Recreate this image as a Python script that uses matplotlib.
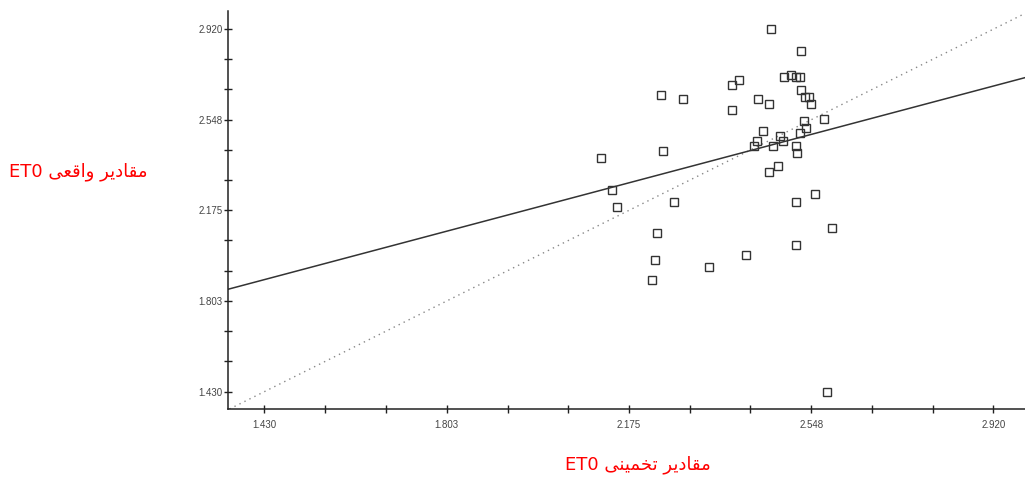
import matplotlib
matplotlib.use('Agg')
import matplotlib.pyplot as plt
import numpy as np
from matplotlib.ticker import FixedLocator, FormatStrFormatter

et0_estimated = [2.466, 2.527, 2.492, 2.506, 2.517, 2.525, 2.400, 2.386, 2.241, 2.286,
                 2.527, 2.535, 2.543, 2.547, 2.439, 2.461, 2.386, 2.574, 2.533, 2.537,
                 2.525, 2.449, 2.437, 2.431, 2.484, 2.490, 2.470, 2.517, 2.519, 2.245,
                 2.118, 2.480, 2.461, 2.141, 2.555, 2.151, 2.267, 2.517, 2.233, 2.590,
                 2.517, 2.228, 2.414, 2.339, 2.222, 2.580]
et0_observed = [2.921, 2.831, 2.724, 2.732, 2.724, 2.724, 2.712, 2.691, 2.650, 2.634,
                2.671, 2.642, 2.642, 2.613, 2.634, 2.613, 2.588, 2.551, 2.543, 2.514,
                2.494, 2.502, 2.461, 2.440, 2.481, 2.461, 2.440, 2.440, 2.411, 2.420,
                2.391, 2.358, 2.333, 2.259, 2.243, 2.189, 2.210, 2.210, 2.083, 2.103,
                2.033, 1.972, 1.992, 1.943, 1.889, 1.429]

# fitted line as drawn in the reference
fit_slope = 0.534
fit_intercept = 1.127

major_ticks = [1.430, 1.803, 2.175, 2.548, 2.920]
x_label = 'مقادیر تخمینی ET0'
y_label = 'مقادیر واقعی ET0'

# matplotlib has no arabic shaping, so pick presentation forms by hand
# (isolated, final, initial, medial); None = letter does not join forward
FORMS = {
    '\u0645': ('\uFEE1', '\uFEE2', '\uFEE3', '\uFEE4'),  # meem
    '\u0642': ('\uFED5', '\uFED6', '\uFED7', '\uFED8'),  # qaf
    '\u0627': ('\uFE8D', '\uFE8E', None, None),          # alef
    '\u062F': ('\uFEA9', '\uFEAA', None, None),          # dal
    '\u0631': ('\uFEAD', '\uFEAE', None, None),          # reh
    '\u0648': ('\uFEED', '\uFEEE', None, None),          # waw
    '\u0639': ('\uFEC9', '\uFECA', '\uFECB', '\uFECC'),  # ain
    '\u062A': ('\uFE95', '\uFE96', '\uFE97', '\uFE98'),  # teh
    '\u062E': ('\uFEA5', '\uFEA6', '\uFEA7', '\uFEA8'),  # khah
    '\u0646': ('\uFEE5', '\uFEE6', '\uFEE7', '\uFEE8'),  # noon
    '\u06CC': ('\uFEEF', '\uFEF0', '\uFEF3', '\uFEF4'),  # farsi yeh
}


def shape_word(word):
    out = []
    for i, ch in enumerate(word):
        f = FORMS[ch]
        prev_joins = i > 0 and FORMS[word[i - 1]][2] is not None
        next_joins = i < len(word) - 1 and f[2] is not None
        if prev_joins and next_joins:
            out.append(f[3])
        elif prev_joins:
            out.append(f[1])
        elif next_joins:
            out.append(f[2])
        else:
            out.append(f[0])
    return ''.join(reversed(out))


def rtl(text):
    words = []
    for w in reversed(text.split(' ')):
        if w and w[0] in FORMS:
            words.append(shape_word(w))
        else:
            words.append(w)
    return ' '.join(words)


def minor_between(ticks):
    step = (ticks[1] - ticks[0]) / 3
    res = []
    for t in ticks[:-1]:
        res.extend([t + step, t + 2 * step])
    return res


fig = plt.figure(figsize=(10.25, 4.8), dpi=100)
ax = fig.add_axes([228 / 1025, 71 / 480, 797 / 1025, 398.5 / 480])

ax.plot(et0_estimated, et0_observed, 's', mfc='none', mec='#333333', ms=6, mew=1.0, zorder=3)
ax.axline((0, fit_intercept), slope=fit_slope, color='#333333', lw=1.1, zorder=2)
ax.axline((0, 0), slope=1, color='#888888', lw=1.0, ls=(0, (1, 3)), zorder=1)

ax.set_xlim(1.356, 2.985)
ax.set_ylim(1.359, 2.997)

for side in ['top', 'right']:
    ax.spines[side].set_visible(False)
for side in ['left', 'bottom']:
    ax.spines[side].set_color('#222222')
    ax.spines[side].set_linewidth(1.1)

for axis in [ax.xaxis, ax.yaxis]:
    axis.set_major_locator(FixedLocator(major_ticks))
    axis.set_minor_locator(FixedLocator(minor_between(major_ticks)))
    axis.set_major_formatter(FormatStrFormatter('%.3f'))

ax.tick_params(which='both', direction='inout', length=5.5, width=1.0, color='#222222')
ax.tick_params(axis='both', labelsize=7, labelcolor='#444444')
ax.tick_params(axis='x', pad=5)
ax.tick_params(axis='y', pad=1)
for lab in ax.get_xticklabels() + ax.get_yticklabels():
    lab.set_fontfamily('Liberation Sans')

lab_font = ['DejaVu Sans']
fig.text(78 / 1025, 1 - 172 / 480, rtl(y_label), color='red', fontsize=13,
         family=lab_font, ha='center', va='center')
fig.text(638 / 1025, 1 - 465 / 480, rtl(x_label), color='red', fontsize=13,
         family=lab_font, ha='center', va='center')

fig.savefig('out.png', dpi=100)
